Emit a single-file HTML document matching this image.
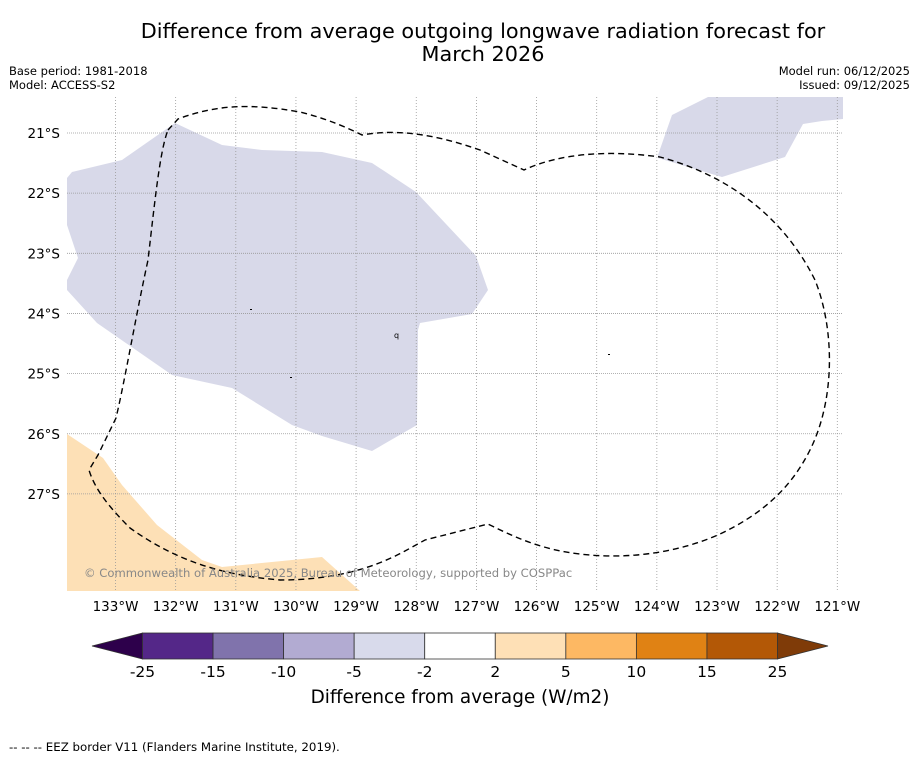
<!DOCTYPE html>
<html><head><meta charset="utf-8"><style>
body{margin:0;background:#fff;font-family:"Liberation Sans","DejaVu Sans",sans-serif}
svg{display:block}
</style></head><body>
<svg width="919" height="758" viewBox="0 0 919 758" font-family="DejaVu Sans, Liberation Sans, sans-serif">
<text x="483" y="38" font-size="20.8" text-anchor="middle">Difference from average outgoing longwave radiation forecast for</text>
<text x="483" y="61" font-size="20.8" text-anchor="middle">March 2026</text>
<text x="9" y="75" font-size="11.5">Base period: 1981-2018</text>
<text x="9" y="89" font-size="11.5">Model: ACCESS-S2</text>
<text x="910" y="75" font-size="11.5" text-anchor="end">Model run: 06/12/2025</text>
<text x="910" y="89" font-size="11.5" text-anchor="end">Issued: 09/12/2025</text>
<g id="map">
<defs><clipPath id="mc"><rect x="67" y="97" width="776" height="494"/></clipPath></defs>
<g clip-path="url(#mc)">
<path fill="#d8d9e9" d="M67,178 L72,172 L122,160 L175,123 L222,145 L262,150 L322,152 L372,163 L416,192 L476,256 L488,290 L472,314 L420,323 L418,330 L417,425 L372,451 L322,436 L292,425 L232,388 L172,375 L97,323 L67,290 L67,280 L78,258 L67,225 Z"/>
<path fill="#d8d9e9" d="M658,155 L672,115 L708,97 L843,97 L843,119 L822,121 L803,124 L785,157 L722,177 L658,158 Z"/>
<path fill="#fde0b6" d="M67,434 L103,458 L122,485 L157,525 L202,560 L222,567 L282,561 L322,557 L360,591 L67,591 Z"/>
</g>
<g id="grid" stroke="#999" stroke-width="0.8"></g>
<path fill="none" stroke="#000" stroke-width="1.4" stroke-dasharray="6,4" d="M168,130 L178,119 C215,105 250,103 300,112 C320,117 340,124 362,135 C400,128 440,136 480,150 L524,170 C560,153 610,150 660,157 C720,173 780,210 815,280 C835,330 835,400 810,450 C790,490 760,515 720,534 C680,552 630,560 580,554 C545,550 520,540 488,524 L425,540 L405,551 C370,570 330,580 280,580 C220,575 175,560 130,528 C110,508 95,490 89,470 L98,455 L116,418 C125,380 135,320 148,260 C155,200 160,150 168,130"/>
<text x="84" y="577" font-size="11.6" fill="#888">© Commonwealth of Australia 2025, Bureau of Meteorology, supported by COSPPac</text>
<rect x="250" y="309" width="2" height="1" fill="#000"/>
<rect x="290" y="377" width="2" height="1" fill="#000"/>
<rect x="608" y="354" width="2" height="1" fill="#000"/>
<text x="394" y="338" font-size="8">q</text>
</g>
<g id="xlabels" font-size="13.5" text-anchor="middle"></g>
<g id="ylabels" font-size="13.5" text-anchor="end"></g>
<g id="cbar"></g>
<text x="460" y="703" font-size="18.4" text-anchor="middle">Difference from average (W/m2)</text>
<text x="9" y="751" font-size="11.8">--  --  -- EEZ border V11 (Flanders Marine Institute, 2019).</text>
</svg>
<script>
const lonTicks=[133,132,131,130,129,128,127,126,125,124,123,122,121];
const latTicks=[21,22,23,24,25,26,27];
const cbBounds=[-25,-15,-10,-5,-2,2,5,10,15,25];
const cbColors=["#542788","#8073ac","#b2abd2","#d8daeb","#ffffff","#fee0b6","#fdb863","#e08214","#b35806"];
const NS="http://www.w3.org/2000/svg";
function xLon(l){return 115.5+(133-l)*60.15;}
function yLat(l){return 133+(l-21)*60.15;}
function mk(t,a,p){const e=document.createElementNS(NS,t);for(const k in a)e.setAttribute(k,a[k]);p.appendChild(e);return e;}
const grid=document.getElementById('grid'),xl=document.getElementById('xlabels'),yl=document.getElementById('ylabels');
lonTicks.forEach(l=>{const x=xLon(l);
 const g=mk('line',{x1:x,x2:x,y1:97,y2:591,'stroke-dasharray':'1,2'},grid);
 
 
 const t=mk('text',{x:x,y:611},xl);t.textContent=l+'°W';
 
 });
latTicks.forEach(l=>{const y=yLat(l);
 const g=mk('line',{x1:67,x2:843,y1:y,y2:y,'stroke-dasharray':'1,1'},grid);
 
 
 const t=mk('text',{x:60,y:y+5},yl);t.textContent=l+'°S';
 
 });
const cb=document.getElementById('cbar');
const x0=142.5,x1=777.5,y0=633,y1=659,w=(x1-x0)/cbColors.length;
const lo=mk('path',{d:`M${x0},${y0} L92,646 L${x0},${y1} Z`,fill:'#2d004b',stroke:'#333','stroke-width':0.8},cb);


const hi=mk('path',{d:`M${x1},${y0} L828,646 L${x1},${y1} Z`,fill:'#7f3b08',stroke:'#333','stroke-width':0.8},cb);


cbColors.forEach((c,i)=>{const r=mk('rect',{x:x0+i*w,y:y0,width:w,height:y1-y0,fill:c,stroke:'#333','stroke-width':0.8},cb);
 
 });
cbBounds.forEach((b,i)=>{const t=mk('text',{x:x0+i*w,y:677,'font-size':15.5,'text-anchor':'middle'},cb);t.textContent=b;
 
 });
</script>
</body></html>
